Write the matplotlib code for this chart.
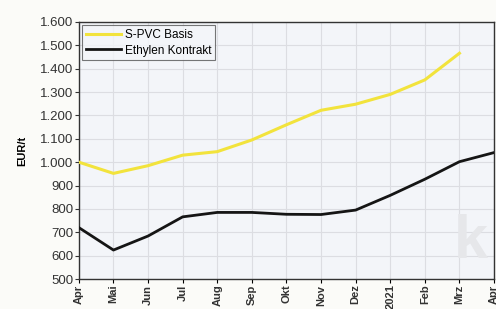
import matplotlib
matplotlib.use("Agg")
import matplotlib.pyplot as plt
from matplotlib.ticker import FuncFormatter

plt.rcParams["font.family"] = ["Liberation Sans", "DejaVu Sans"]

months = ["Apr", "Mai", "Jun", "Jul", "Aug", "Sep", "Okt", "Nov", "Dez", "2021", "Feb", "Mrz", "Apr"]
pvc = [1000, 952, 985, 1030, 1045, 1095, 1160, 1222, 1248, 1290, 1352, 1466]
ethylen = [720, 624, 684, 766, 785, 785, 777, 776, 795, 858, 927, 1002, 1041]

fig = plt.figure(figsize=(4.96, 3.09), dpi=100)
fig.patch.set_facecolor("#fbfbf8")
ax = fig.add_axes([0.159, 0.097, 0.837, 0.832])
ax.set_facecolor("#f3f5f9")

x = list(range(len(months)))
ax.plot(x[:len(pvc)], pvc, color="#f2e33c", lw=2.2, label="S-PVC Basis", zorder=3)
ax.plot(x, ethylen, color="#151515", lw=2.0, label="Ethylen Kontrakt", zorder=3)

# watermark
ax.text(0.985, 0.03, "k", transform=ax.transAxes, ha="right", va="bottom",
        fontsize=44, fontweight="bold", color="#e6e7ea", zorder=1)

ax.set_xlim(0, len(months) - 1)
ax.set_ylim(500, 1600)
ax.set_yticks(range(500, 1601, 100))
ax.yaxis.set_major_formatter(FuncFormatter(lambda v, p: f"{int(v):,}".replace(",", ".")))
ax.set_xticks(x)
ax.set_xticklabels(months, rotation=90, fontsize=8, fontweight="bold", color="#333333")
ax.tick_params(axis="y", labelsize=9.5, colors="#333333", length=3, pad=1)
ax.tick_params(axis="x", length=3, pad=1)
ax.set_ylabel("EUR/t", fontsize=8, fontweight="bold", labelpad=9)

ax.grid(True, color="#dcdde2", lw=0.8)
ax.set_axisbelow(True)
for s in ax.spines.values():
    s.set_color("#333333")
    s.set_linewidth(1.0)

leg = ax.legend(loc="upper left", fontsize=8.5, frameon=True, fancybox=False,
                borderpad=0.3, handlelength=3.0, handletextpad=0.3,
                labelspacing=0.3, borderaxespad=0.3)
leg.get_frame().set_edgecolor("#555555")
leg.get_frame().set_facecolor("#f3f5f9")
leg.get_frame().set_linewidth(0.8)

fig.savefig("out.png", dpi=100, facecolor=fig.get_facecolor())
